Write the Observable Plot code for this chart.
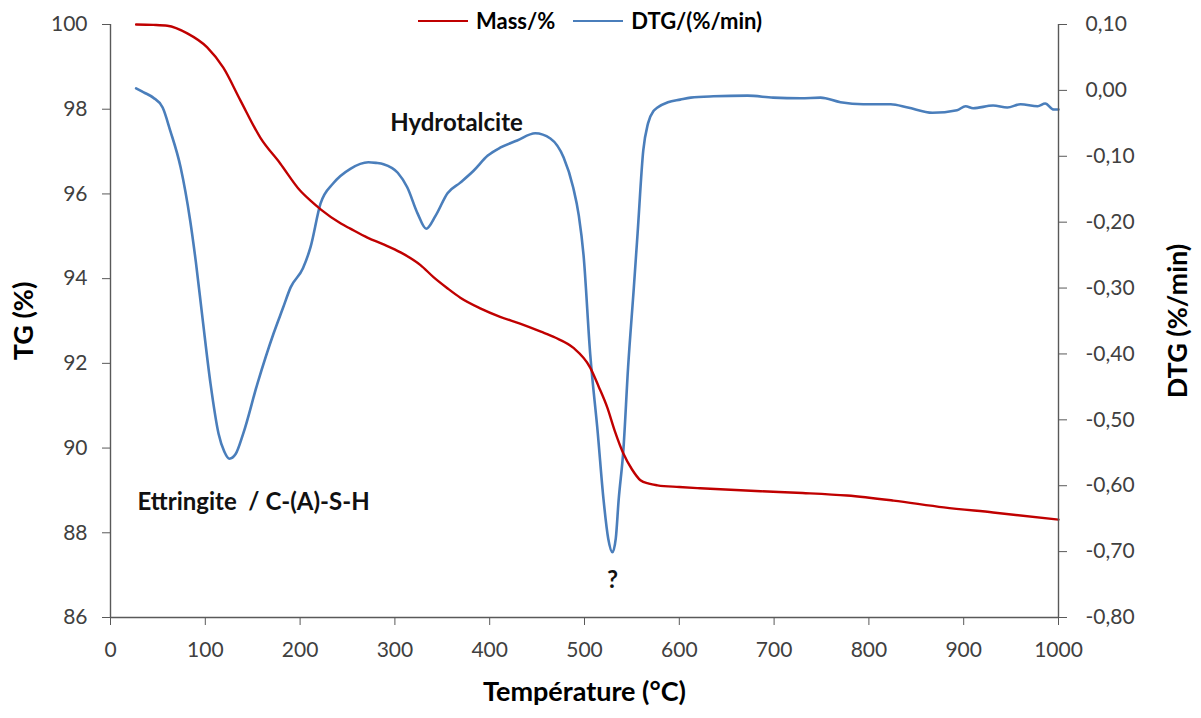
<!DOCTYPE html>
<html>
<head>
<meta charset="utf-8">
<script src="https://cdn.jsdelivr.net/npm/d3@7"></script>
<script src="https://cdn.jsdelivr.net/npm/@observablehq/plot@0.6"></script>
<style>
  html, body { margin: 0; padding: 0; background: #fff; }
  #wrap { position: relative; width: 1201px; height: 718px; font-family: Lato, "Open Sans", sans-serif; }
  #legend { position: absolute; top: 7px; left: 418px; display: flex; align-items: center; font-weight: bold; font-size: 22px; color: #000; }
  #legend .sw { display: inline-block; width: 50px; height: 0; border-top: 2.5px solid; margin-right: 8px; }
  #legend .item { display: flex; align-items: center; margin-right: 18px; }
</style>
</head>
<body>
<div id="wrap">
  <div id="chart"></div>
  <div id="legend"></div>
</div>
<script>
// ---- data ----
const massT = [27, 45, 60, 81, 102, 119, 137, 158, 179, 200, 211, 222, 243, 253, 271, 288, 306, 327, 341, 355, 369, 390, 411, 432, 454, 469, 488, 506, 515, 524, 532, 541, 550, 559, 568, 577, 600, 622, 686, 730, 777, 826, 879, 931, 1000];
const massV = [100.0, 99.99, 99.97, 99.79, 99.46, 98.98, 98.21, 97.33, 96.72, 96.08, 95.84, 95.63, 95.3, 95.18, 94.97, 94.81, 94.62, 94.32, 94.03, 93.78, 93.55, 93.3, 93.1, 92.94, 92.75, 92.61, 92.37, 91.9, 91.45, 90.96, 90.4, 89.87, 89.5, 89.24, 89.16, 89.12, 89.08, 89.05, 88.98, 88.94, 88.88, 88.76, 88.6, 88.48, 88.31];

const dtgT = [27, 35, 45, 55, 63, 74, 84, 90, 97, 105.5, 114, 120, 125.5, 132, 140, 155, 172, 182, 190, 203, 211, 221.5, 235, 253, 272, 280, 288, 303, 313, 324, 333, 343, 355.5, 369, 383, 398, 411, 429, 448, 464, 478, 488, 494, 499, 506, 514, 520, 525, 529.5, 533, 536, 541, 546, 552, 556, 562, 567, 573, 577, 588, 601, 612, 636, 672, 699, 728, 749, 770, 794, 823, 841, 867, 893, 902, 910, 931, 946, 960, 978, 986, 995, 1000];
const dtgV = [0.003, -0.003, -0.011, -0.026, -0.061, -0.117, -0.197, -0.26, -0.345, -0.445, -0.521, -0.548, -0.559, -0.552, -0.521, -0.445, -0.369, -0.33, -0.299, -0.27, -0.238, -0.172, -0.141, -0.119, -0.109, -0.110, -0.112, -0.125, -0.147, -0.187, -0.210, -0.190, -0.156, -0.140, -0.122, -0.099, -0.087, -0.076, -0.065, -0.073, -0.102, -0.147, -0.19, -0.25, -0.40, -0.52, -0.62, -0.68, -0.701, -0.68, -0.622, -0.546, -0.42, -0.30, -0.217, -0.091, -0.05, -0.031, -0.026, -0.018, -0.014, -0.011, -0.009, -0.008, -0.011, -0.012, -0.011, -0.018, -0.021, -0.021, -0.026, -0.034, -0.030, -0.024, -0.027, -0.023, -0.026, -0.021, -0.024, -0.020, -0.029, -0.029];

const xTicks = [0, 100, 200, 300, 400, 500, 600, 700, 800, 900, 1000];
const tgTicks = [86, 88, 90, 92, 94, 96, 98, 100];
const dtgTicks = [0.10, 0.00, -0.10, -0.20, -0.30, -0.40, -0.50, -0.60, -0.70, -0.80];

const seriesNames = ["Mass/%", "DTG/(%/min)"];
const seriesColors = ["#C00000", "#4A7EBB"];

const annLabels = ["Hydrotalcite", "Ettringite  / C-(A)-S-H", "?"];
const annT = [365, 28.5, 529.5];
const annTG = [97.66, 88.72, 86.87];
const annAnchor = ["middle", "start", "middle"];

const titleX = "Température (°C)";
const titleY = "TG (%)";
const titleY2 = "DTG (%/min)";

// ---- scales mapping (DTG onto TG scale) ----
const tgMin = 86, tgMax = 100, dtgMin = -0.80, dtgMax = 0.10;
const toLeft = v => tgMin + (v - dtgMin) * (tgMax - tgMin) / (dtgMax - dtgMin);
const fromLeft = v => dtgMin + (v - tgMin) * (dtgMax - dtgMin) / (tgMax - tgMin);
const fmtDTG = v => { let d = fromLeft(v); if (Math.abs(d) < 1e-9) d = 0; return d.toFixed(2).replace(".", ","); };

const mass = massT.map((t, i) => ({t, v: massV[i]}));
const dtg = dtgT.map((t, i) => ({t, v: toLeft(dtgV[i])}));
const ann = annLabels.map((s, i) => ({s, t: annT[i], v: annTG[i], a: annAnchor[i]}));

const axisColor = "#595959";
const textColor = "#404040";

const chart = Plot.plot({
  width: 1201,
  height: 718,
  marginLeft: 110,
  marginRight: 143,
  marginTop: 24,
  marginBottom: 101,
  style: { fontFamily: "Lato, 'Open Sans', sans-serif", background: "#fff" },
  x: { domain: [0, 1000] },
  y: { domain: [tgMin, tgMax] },
  marks: [
    Plot.line(dtg, { x: "t", y: "v", stroke: seriesColors[1], strokeWidth: 2.6, curve: "monotone-x" }),
    Plot.line(mass, { x: "t", y: "v", stroke: seriesColors[0], strokeWidth: 2.4, curve: "monotone-x" }),
    Plot.ruleX([0, 1000], { stroke: axisColor, strokeWidth: 1.4 }),
    Plot.ruleY([tgMin], { stroke: axisColor, strokeWidth: 1.4 }),
    Plot.axisX({ ticks: xTicks, tickSize: 8, tickPadding: 17, fontSize: 21, stroke: axisColor, fill: textColor, label: null, tickFormat: d => String(d) }),
    Plot.axisY({ anchor: "left", ticks: tgTicks, tickSize: 8, tickPadding: 15, fontSize: 21, stroke: axisColor, fill: textColor, label: null, tickFormat: d => String(d) }),
    Plot.axisY({ anchor: "right", ticks: dtgTicks.map(toLeft), tickSize: 8, tickPadding: 19, fontSize: 21, stroke: axisColor, fill: textColor, label: null, tickFormat: fmtDTG }),
    Plot.text(ann.filter(d => d.a === "middle"), { x: "t", y: "v", text: "s", fontSize: 24, fontWeight: "bold", fill: "#111", textAnchor: "middle" }),
    Plot.text(ann.filter(d => d.a === "start"), { x: "t", y: "v", text: "s", fontSize: 24, fontWeight: "bold", fill: "#111", textAnchor: "start" }),
    Plot.text([titleY], { text: d => d, frameAnchor: "left", dx: -86, rotate: -90, textAnchor: "middle", fontSize: 27, fontWeight: "bold", fill: "#000" }),
    Plot.text([titleY2], { text: d => d, frameAnchor: "right", dx: 120, rotate: -90, textAnchor: "middle", fontSize: 27, fontWeight: "bold", fill: "#000" }),
    Plot.text([titleX], { text: d => d, frameAnchor: "bottom", dy: 83, textAnchor: "middle", fontSize: 27, fontWeight: "bold", fill: "#000" })
  ]
});
document.getElementById("chart").appendChild(chart);

const legend = document.getElementById("legend");
seriesNames.forEach((n, i) => {
  const item = document.createElement("span");
  item.className = "item";
  const sw = document.createElement("span");
  sw.className = "sw";
  sw.style.borderTopColor = seriesColors[i];
  item.appendChild(sw);
  item.appendChild(document.createTextNode(n));
  legend.appendChild(item);
});
</script>
</body>
</html>
